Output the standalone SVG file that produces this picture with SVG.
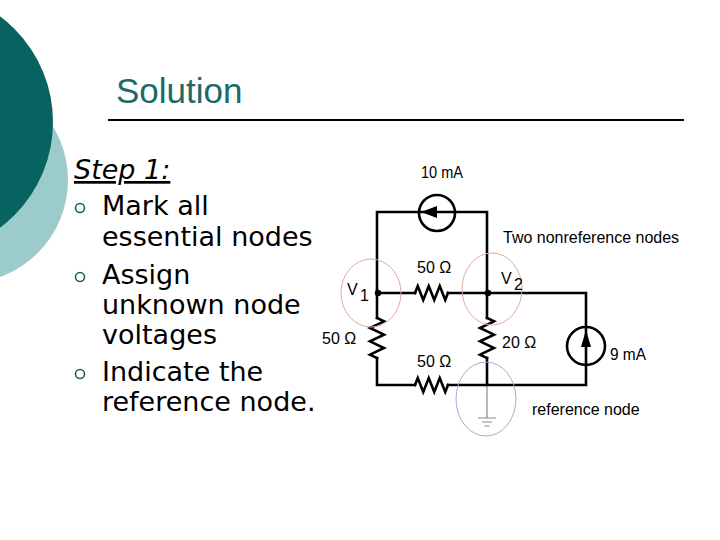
<svg xmlns="http://www.w3.org/2000/svg" width="720" height="540" viewBox="0 0 720 540">
<style>
.body{font-family:"DejaVu Sans",Verdana,sans-serif;font-size:27px;fill:#000}
.lbl{font-family:"Liberation Sans",Arial,sans-serif;font-size:16px;fill:#000}
.w{fill:none;stroke:#000;stroke-width:2.6;stroke-linejoin:miter;stroke-linecap:square}
.bul{fill:none;stroke:#1f6060;stroke-width:1.6}
.gnd{stroke:#8a8a8a;stroke-width:1.2;fill:none}
.mark1{fill:none;stroke:#e2a9a9;stroke-width:1}
.mark2{fill:none;stroke:#a9a9d9;stroke-width:1}
</style>
<rect width="720" height="540" fill="#fff"/>
<g id="decoration">
<circle cx="-35" cy="180" r="103" fill="#9bcbcb"/>
<circle cx="-79" cy="122" r="132" fill="#08625f"/>
</g>
<g id="title">
<text x="116" y="103" font-family="Liberation Sans, Arial, sans-serif" font-size="35" fill="#1c6a68">Solution</text>
<line x1="108" y1="120" x2="684" y2="120" stroke="#000" stroke-width="2"/>
</g>
<g id="bullets">
<text class="body" x="74" y="179" font-style="italic" text-decoration="underline">Step 1:</text>
<circle class="bul" cx="80" cy="208" r="4.5"/>
<text class="body" x="102" y="215">Mark all</text>
<text class="body" x="102" y="246">essential nodes</text>
<circle class="bul" cx="80" cy="277" r="4.5"/>
<text class="body" x="102" y="284">Assign</text>
<text class="body" x="102" y="314">unknown node</text>
<text class="body" x="102" y="344">voltages</text>
<circle class="bul" cx="80" cy="374" r="4.5"/>
<text class="body" x="102" y="381">Indicate the</text>
<text class="body" x="102" y="411">reference node.</text>
</g>
<g id="connectors">
<path class="w" d="M377,318 V212 H487 V318"/>
<path class="w" d="M377,358 V385 H415"/>
<path class="w" d="M448,385 H586 V293 H487"/>
<path class="w" d="M487,358 V385"/>
<path class="w" d="M377,293 H415"/>
<path class="w" d="M448,293 H487"/>
</g>
<g id="R1">
<path class="w" d="M415,293 L417.75,286 L423.25,300 L428.75,286 L434.25,300 L439.75,286 L445.25,300 L448,293"/>
<text class="lbl" x="417" y="273" font-size="15.5">50 Ω</text>
</g>
<g id="R2">
<path class="w" d="M377,318 L384,321.3 L370,328 L384,334.7 L370,341.3 L384,348 L370,354.7 L377,358"/>
<text class="lbl" x="322" y="344" font-size="15.5">50 Ω</text>
</g>
<g id="R3">
<path class="w" d="M415,385 L417.75,378 L423.25,392 L428.75,378 L434.25,392 L439.75,378 L445.25,392 L448,385"/>
<text class="lbl" x="417" y="367" font-size="15.5">50 Ω</text>
</g>
<g id="R4">
<path class="w" d="M487,318 L494,321.3 L480,328 L494,334.7 L480,341.3 L494,348 L480,354.7 L487,358"/>
<text class="lbl" x="502" y="348" font-size="15.5">20 Ω</text>
</g>
<g id="I1">
<circle cx="437" cy="213" r="18" fill="none" stroke="#000" stroke-width="2.6"/>
<polygon points="421,212 437,206 437,218" fill="#000"/>
<text class="lbl" x="421" y="178" textLength="42" lengthAdjust="spacingAndGlyphs">10 mA</text>
</g>
<g id="I2">
<circle cx="586" cy="346" r="19" fill="none" stroke="#000" stroke-width="2.6"/>
<polygon points="586,330 581,347 591,347" fill="#000"/>
<text class="lbl" x="610" y="360" textLength="36" lengthAdjust="spacingAndGlyphs">9 mA</text>
</g>
<g id="V1">
<circle cx="378" cy="293" r="3.2" fill="#000"/>
<ellipse class="mark1" cx="371" cy="293" rx="30" ry="34"/>
<text class="lbl" x="347" y="295" font-size="20.5">V</text>
<text class="lbl" x="360" y="301" font-size="13">1</text>
</g>
<g id="V2">
<circle cx="488" cy="293" r="3.2" fill="#000"/>
<ellipse class="mark1" cx="492" cy="289" rx="30" ry="36"/>
<text class="lbl" x="501" y="284" font-size="20.5">V</text>
<text class="lbl" x="514" y="290" font-size="13">2</text>
<text class="lbl" x="503" y="243" font-size="14.5">Two nonreference nodes</text>
</g>
<g id="ground">
<path class="gnd" d="M487,386 V418 M478,418 H496 M482,422 H492 M484.5,426 H489.5"/>
<ellipse class="mark2" cx="486" cy="399" rx="30" ry="37"/>
<text class="lbl" x="532" y="415" font-size="15">reference node</text>
</g>
</svg>
